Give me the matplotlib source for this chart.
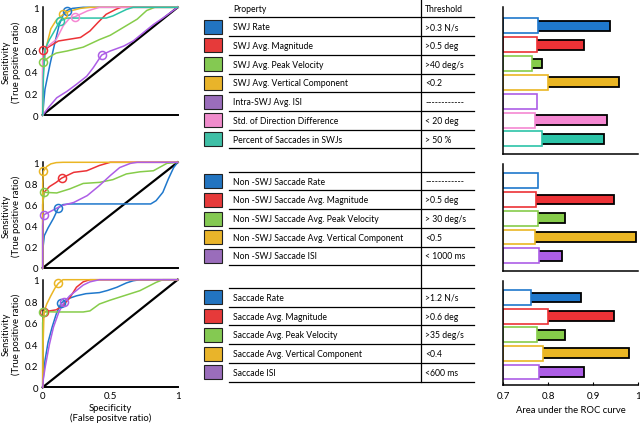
import matplotlib
matplotlib.use("Agg")
import matplotlib.pyplot as plt
from matplotlib.patches import Rectangle

plt.rcParams['font.family'] = ['Lato', 'DejaVu Sans']

# ---------------- colours ----------------
line_colors = ['#1f78cc', '#ec3236', '#86cc4a', '#eab624', '#ad5ee6', '#f587d2', '#2cc4a8']
table_colors = ['#2274c0', '#e63a3a', '#84c952', '#e9b42a', '#9a6dbb', '#f08ccc', '#3fbfa6']

# ---------------- table text ----------------
props_swj = ["SWJ Rate", "SWJ Avg. Magnitude", "SWJ Avg. Peak Velocity",
             "SWJ Avg. Vertical Component", "Intra-SWJ Avg. ISI",
             "Std. of Direction Difference", "Percent of Saccades in SWJs"]
thr_swj = [">0.3 N/s", ">0.5 deg", ">40 deg/s", "<0.2", "------------", "< 20 deg", "> 50 %"]
props_non = ["Non -SWJ Saccade Rate", "Non -SWJ Saccade Avg. Magnitude",
             "Non -SWJ Saccade Avg. Peak Velocity", "Non -SWJ Saccade Avg. Vertical Component",
             "Non -SWJ Saccade ISI"]
thr_non = ["------------", ">0.5 deg", "> 30 deg/s", "<0.5", "< 1000 ms"]
props_sac = ["Saccade Rate", "Saccade Avg. Magnitude", "Saccade Avg. Peak Velocity",
             "Saccade Avg. Vertical Component", "Saccade ISI"]
thr_sac = [">1.2 N/s", ">0.6 deg", ">35 deg/s", "<0.4", "<600 ms"]

# ---------------- AUC values ----------------
auc_swj = [0.938, 0.880, 0.787, 0.958, 0.760, 0.931, 0.923]
chance_swj = [0.776, 0.775, 0.764, 0.800, 0.775, 0.771, 0.787]
auc_non = [0.760, 0.945, 0.836, 0.995, 0.830]
chance_non = [0.776, 0.773, 0.778, 0.770, 0.780]
auc_sac = [0.873, 0.946, 0.838, 0.980, 0.880]
chance_sac = [0.762, 0.800, 0.775, 0.789, 0.780]

# ---------------- ROC curves ----------------
# SWJ panel (order: rate, magnitude, peak vel, vertical, ISI, std dir, percent)
swj_blue_x = [0, 0.01, 0.017, 0.054, 0.09, 0.123, 0.153, 0.178, 0.22, 0.3, 1]
swj_blue_y = [0, 0.15, 0.24, 0.47, 0.67, 0.84, 0.935, 0.97, 0.99, 1, 1]
swj_red_x = [0, 0, 0.005, 0.054, 0.116, 0.18, 0.28, 0.35, 0.41, 0.47, 0.54, 0.58, 1]
swj_red_y = [0, 0.5, 0.6, 0.64, 0.687, 0.70, 0.72, 0.78, 0.86, 0.935, 0.98, 1, 1]
swj_green_x = [0, 0, 0.005, 0.05, 0.1, 0.18, 0.3, 0.42, 0.5, 0.62, 0.7, 0.77, 0.83, 1]
swj_green_y = [0, 0.4, 0.495, 0.54, 0.575, 0.594, 0.63, 0.70, 0.74, 0.83, 0.89, 0.97, 1, 1]
swj_yellow_x = [0, 0.005, 0.02, 0.06, 0.1, 0.153, 0.2, 0.28, 0.35, 1]
swj_yellow_y = [0, 0.4, 0.6, 0.8, 0.88, 0.935, 0.965, 0.99, 1, 1]
swj_purple_x = [0, 0.05, 0.104, 0.18, 0.25, 0.326, 0.375, 0.437, 0.5, 0.6, 0.67, 0.746, 0.82, 0.89, 1]
swj_purple_y = [0, 0.08, 0.16, 0.22, 0.285, 0.36, 0.44, 0.557, 0.594, 0.64, 0.687, 0.765, 0.84, 0.9, 1]
swj_pink_x = [0, 0, 0.017, 0.05, 0.1, 0.153, 0.2, 0.24, 0.33, 0.42, 1]
swj_pink_y = [0, 0.55, 0.62, 0.65, 0.70, 0.83, 0.9, 0.913, 0.966, 1, 1]
swj_teal_x = [0, 0.005, 0.017, 0.05, 0.08, 0.128, 0.18, 0.3, 0.47, 0.52, 0.57, 0.62, 0.67, 1]
swj_teal_y = [0, 0.35, 0.61, 0.70, 0.765, 0.873, 0.9, 0.9, 0.9, 0.92, 0.95, 0.98, 1, 1]
swj_mark_x = [0.178, 0.005, 0.005, 0.153, 0.437, 0.24, 0.128]
swj_mark_y = [0.97, 0.60, 0.495, 0.935, 0.557, 0.913, 0.873]

# Non-SWJ panel (rate, magnitude, peak vel, vertical, ISI)
non_blue_x = [0, 0.003, 0.012, 0.04, 0.08, 0.116, 0.15, 0.2, 0.4, 0.6, 0.8, 0.84, 0.89, 0.93, 0.97, 1]
non_blue_y = [0, 0.2, 0.306, 0.38, 0.47, 0.568, 0.6, 0.606, 0.606, 0.606, 0.606, 0.637, 0.716, 0.84, 0.95, 1]
non_red_x = [0, 0, 0.01, 0.05, 0.1, 0.14, 0.23, 0.326, 0.42, 0.5, 1]
non_red_y = [0, 0.6, 0.716, 0.77, 0.81, 0.85, 0.905, 0.92, 0.97, 1, 1]
non_green_x = [0, 0, 0.01, 0.104, 0.2, 0.3, 0.42, 0.52, 0.62, 0.72, 0.82, 0.92, 1]
non_green_y = [0, 0.6, 0.716, 0.71, 0.748, 0.80, 0.81, 0.836, 0.89, 0.91, 0.92, 0.99, 1]
non_yellow_x = [0, 0, 0.005, 0.03, 0.06, 0.1, 0.15, 1]
non_yellow_y = [0, 0.8, 0.915, 0.96, 0.985, 0.997, 1, 1]
non_purple_x = [0, 0, 0.01, 0.05, 0.14, 0.23, 0.33, 0.42, 0.5, 0.57, 0.65, 0.7, 1]
non_purple_y = [0, 0.4, 0.505, 0.53, 0.59, 0.62, 0.685, 0.78, 0.874, 0.95, 0.99, 1, 1]
non_mark_x = [0.116, 0.14, 0.01, 0.005, 0.01]
non_mark_y = [0.568, 0.85, 0.716, 0.915, 0.505]

# Saccade panel (rate, magnitude, peak vel, vertical, ISI)
sac_blue_x = [0, 0.005, 0.017, 0.04, 0.07, 0.1, 0.136, 0.18, 0.25, 0.32, 0.42, 0.48, 0.55, 0.62, 0.67, 0.72, 1]
sac_blue_y = [0, 0.1, 0.25, 0.42, 0.56, 0.68, 0.783, 0.82, 0.85, 0.87, 0.88, 0.9, 0.93, 0.97, 0.99, 1, 1]
sac_red_x = [0, 0, 0.01, 0.05, 0.1, 0.15, 0.2, 0.25, 0.3, 0.35, 1]
sac_red_y = [0, 0.6, 0.70, 0.71, 0.72, 0.76, 0.83, 0.93, 0.98, 1, 1]
sac_green_x = [0, 0, 0.005, 0.1, 0.2, 0.3, 0.35, 0.42, 0.5, 0.6, 0.72, 0.84, 0.89, 1]
sac_green_y = [0, 0.6, 0.703, 0.70, 0.70, 0.70, 0.71, 0.774, 0.81, 0.85, 0.898, 0.975, 1, 1]
sac_yellow_x = [0, 0.003, 0.01, 0.03, 0.06, 0.09, 0.116, 0.15, 1]
sac_yellow_y = [0, 0.4, 0.7, 0.774, 0.85, 0.92, 0.966, 1, 1]
sac_purple_x = [0, 0.005, 0.02, 0.05, 0.08, 0.12, 0.158, 0.2, 0.25, 0.3, 0.35, 0.42, 1]
sac_purple_y = [0, 0.08, 0.2, 0.4, 0.56, 0.7, 0.79, 0.85, 0.9, 0.95, 0.98, 1, 1]
sac_mark_x = [0.136, 0.01, 0.005, 0.116, 0.158]
sac_mark_y = [0.783, 0.70, 0.703, 0.966, 0.79]

roc_panels = [
    ([(swj_blue_x, swj_blue_y), (swj_red_x, swj_red_y), (swj_green_x, swj_green_y),
      (swj_yellow_x, swj_yellow_y), (swj_purple_x, swj_purple_y), (swj_pink_x, swj_pink_y),
      (swj_teal_x, swj_teal_y)], swj_mark_x, swj_mark_y, [0, 1, 2, 3, 4, 5, 6]),
    ([(non_blue_x, non_blue_y), (non_red_x, non_red_y), (non_green_x, non_green_y),
      (non_yellow_x, non_yellow_y), (non_purple_x, non_purple_y)], non_mark_x, non_mark_y, [0, 1, 2, 3, 4]),
    ([(sac_blue_x, sac_blue_y), (sac_red_x, sac_red_y), (sac_green_x, sac_green_y),
      (sac_yellow_x, sac_yellow_y), (sac_purple_x, sac_purple_y)], sac_mark_x, sac_mark_y, [0, 1, 2, 3, 4]),
]

W, H = 640, 427
fig = plt.figure(figsize=(6.4, 4.27), dpi=100)

def fax(x0, y0, x1, y1):
    return fig.add_axes([x0 / W, 1 - y1 / H, (x1 - x0) / W, (y1 - y0) / H])

# ---------------- table overlay ----------------
ax_t = fig.add_axes([0, 0, 1, 1])
ax_t.set_xlim(0, W)
ax_t.set_ylim(H, 0)
ax_t.axis('off')

tfs = 6.2
ax_t.plot([421, 421], [0, 383], color='black', lw=0.9)
ax_t.text(233, 9.5, "Property", fontsize=tfs, va='center', ha='left')
ax_t.text(425, 9.5, "Threshold", fontsize=tfs, va='center', ha='left')

def draw_table(top, props, thrs, step=18.72):
    n = len(props)
    for i in range(n + 1):
        yy = top + i * step
        ax_t.plot([229, 474], [yy, yy], color='black', lw=0.9)
    for i in range(n):
        yc = top + (i + 0.5) * step
        ax_t.add_patch(Rectangle((204, yc - 7), 18, 14, facecolor=table_colors[i],
                                 edgecolor='#222222', lw=0.8))
        ax_t.text(233, yc, props[i], fontsize=tfs, va='center', ha='left')
        ax_t.text(425, yc, thrs[i], fontsize=tfs, va='center', ha='left')

draw_table(18.4, props_swj, thr_swj)
draw_table(172.7, props_non, thr_non)
draw_table(289.0, props_sac, thr_sac)

# ---------------- ROC axes ----------------
roc_boxes = [(42.7, 8.3, 177.7, 116.0), (42.7, 163.3, 177.7, 269.0), (42.7, 280.7, 177.7, 388.3)]
for k, (box, (curves, mx, my, cidx)) in enumerate(zip(roc_boxes, roc_panels)):
    ax = fax(*box)
    ax.plot([0, 1], [0, 1], color='black', lw=1.6, clip_on=False, zorder=2)
    for (cx, cy), ci in zip(curves, cidx):
        ax.plot(cx, cy, color=line_colors[ci], lw=1.1, clip_on=False, zorder=3)
    for x, y, ci in zip(mx, my, cidx):
        ax.plot([x], [y], marker='o', ms=5.8, mfc='none', mec=line_colors[ci], mew=1.1,
                clip_on=False, zorder=4)
    ax.set_xlim(0, 1)
    ax.set_ylim(0, 1)
    for s in ['top', 'right']:
        ax.spines[s].set_visible(False)
    ax.spines['left'].set_linewidth(1.1)
    ax.spines['bottom'].set_linewidth(1.4)
    ax.set_yticks([0, 0.2, 0.4, 0.6, 0.8, 1])
    ax.set_yticklabels(['0', '0.2', '0.4', '0.6', '0.8', '1'])
    ax.tick_params(length=0, labelsize=7, pad=3)
    ax.set_ylabel("Sensitivity\n(True positive ratio)", fontsize=6.8, labelpad=3, linespacing=1.1)
    if k == 2:
        ax.set_xticks([0, 0.5, 1])
        ax.set_xticklabels(['0', '0.5', '1'])
        ax.set_xlabel("Specificity\n(False positve ratio)", fontsize=6.8, labelpad=2, linespacing=1.05)
    else:
        ax.set_xticks([])
    ax.patch.set_visible(False)

# ---------------- AUC bar axes ----------------
bar_boxes = [(503.3, 8.0, 638.3, 155.0), (503.3, 165.0, 638.3, 271.7), (503.3, 281.7, 638.3, 386.0)]
bar_ylims = [(6.8, -1.0), (4.8, -0.9), (4.7, -0.9)]
bar_data = [(auc_swj, chance_swj), (auc_non, chance_non), (auc_sac, chance_sac)]
for k, (box, yl, (auc, ch)) in enumerate(zip(bar_boxes, bar_ylims, bar_data)):
    ax = fax(*box)
    pos = list(range(len(auc)))
    cols = line_colors[:len(auc)]
    ax.barh(pos, [a - 0.7 for a in auc], left=0.7, height=0.52, color=cols,
            edgecolor='black', lw=1.3, zorder=2)
    ax.barh(pos, [c - 0.7 for c in ch], left=0.7, height=0.8, color='white',
            edgecolor=cols, lw=1.2, zorder=3)
    ax.set_xlim(0.7, 1.0)
    ax.set_ylim(*yl)
    ax.set_yticks([])
    for s in ['top', 'right']:
        ax.spines[s].set_visible(False)
    ax.spines['left'].set_linewidth(1.1)
    ax.spines['bottom'].set_linewidth(1.1)
    ax.spines['left'].set_zorder(5)
    if k == 2:
        ax.set_xticks([0.7, 0.8, 0.9, 1.0])
        ax.set_xticklabels(['0.7', '0.8', '0.9', '1'])
        ax.tick_params(axis='x', direction='in', length=2, labelsize=7, pad=4)
        ax.set_xlabel("Area under the ROC curve", fontsize=6.8, labelpad=4)
    else:
        ax.set_xticks([])
    ax.patch.set_visible(False)

fig.savefig("out.png", dpi=100)
